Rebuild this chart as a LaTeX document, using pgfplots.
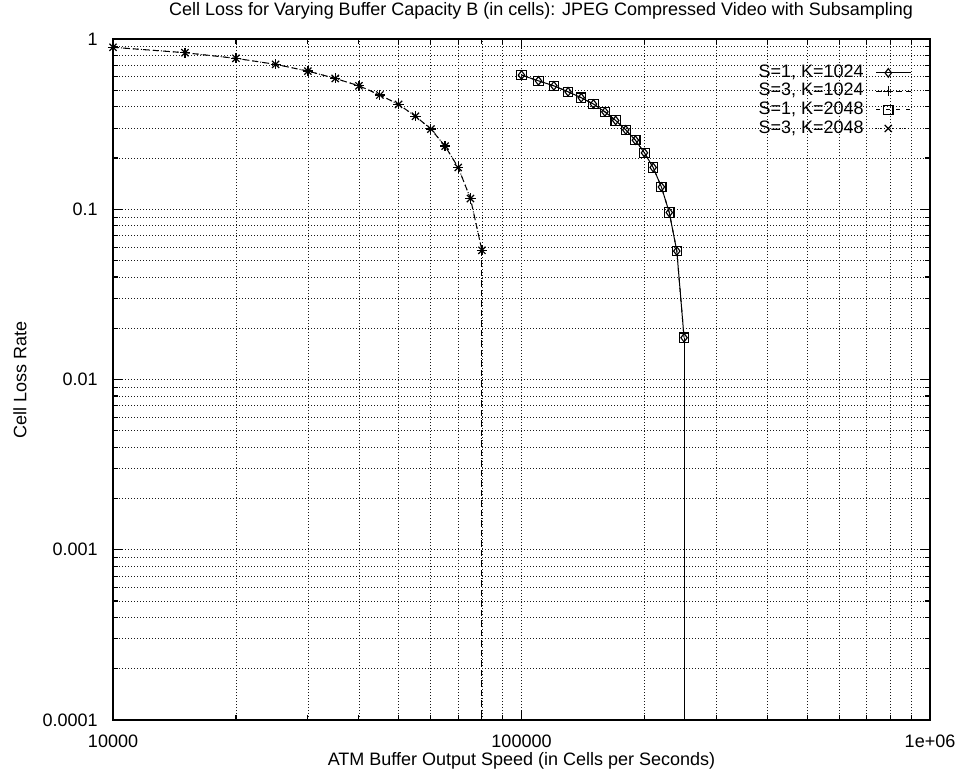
\documentclass[border=0pt]{standalone}
\usepackage{pgfplots}
\pgfplotsset{compat=1.18}
\usepackage{pgfplotstable}
\usepackage{fontspec}
\setmainfont{Liberation Sans}

% Cell loss rate against output speed, subsampling S=3
\pgfplotstableread{
speed loss
10000 0.894
15000 0.831
20000 0.770
25000 0.710
30000 0.648
35000 0.587
40000 0.531
45000 0.469
50000 0.413
55000 0.352
60000 0.296
65000 0.235
70000 0.176
75000 0.1156
80000 0.0574
}\lossSthree

% Cell loss rate against output speed, subsampling S=1
\pgfplotstableread{
speed loss
100000 0.614
110000 0.568
120000 0.531
130000 0.490
140000 0.452
150000 0.415
160000 0.3735
170000 0.3325
180000 0.2926
190000 0.2546
200000 0.2144
210000 0.176
220000 0.1352
230000 0.0957
240000 0.0568
250000 0.0176
}\lossSone

\newcommand{\chartfont}{\fontsize{13.5}{16}\selectfont}

\begin{document}
\begin{tikzpicture}
\begin{axis}[
  name=ax,
  xmode=log, ymode=log,
  scale only axis, width=612.75pt, height=510.75pt,
  xmin=1e4, xmax=1e6, ymin=1e-4, ymax=1,
  xtick={1e4,1e5,1e6}, xticklabels={10000,100000,1e+06},
  ytick={1e-4,1e-3,1e-2,1e-1,1}, yticklabels={0.0001,0.001,0.01,0.1,1},
  minor xtick={2e4,3e4,4e4,5e4,6e4,7e4,8e4,9e4,2e5,3e5,4e5,5e5,6e5,7e5,8e5,9e5},
  minor ytick={2e-4,3e-4,4e-4,5e-4,6e-4,7e-4,8e-4,9e-4,
               2e-3,3e-3,4e-3,5e-3,6e-3,7e-3,8e-3,9e-3,
               2e-2,3e-2,4e-2,5e-2,6e-2,7e-2,8e-2,9e-2,
               2e-1,3e-1,4e-1,5e-1,6e-1,7e-1,8e-1,9e-1},
  grid=both,
  major grid style={black!90, line width=0.6pt, dash pattern=on 0.75pt off 1.5pt},
  minor grid style={black!90, line width=0.6pt, dash pattern=on 0.75pt off 1.5pt},
  tick align=inside, tick pos=both,
  major tick length=7.5pt, minor tick length=3.75pt,
  every tick/.style={black, line width=0.8pt},
  axis line style={black, line width=1.4pt},
  xticklabel style={font=\chartfont, anchor=center, inner sep=0pt, yshift=-15.75pt},
  yticklabel style={font=\chartfont, anchor=east, inner sep=0pt, xshift=-11.25pt},
  every axis title shift=0pt,
  title={Cell Loss for Varying Buffer Capacity B (in cells): JPEG Compressed Video with Subsampling},
  title style={font=\chartfont, at={(axis description cs:0.5239,1.0411)}, anchor=center, inner sep=0pt},
  xlabel={ATM Buffer Output Speed (in Cells per Seconds)},
  xlabel style={font=\chartfont, at={(axis description cs:0.5,-0.0602)}, anchor=center, inner sep=0pt},
  ylabel={Cell Loss Rate},
  ylabel style={font=\chartfont, at={(axis description cs:-0.1138,0.5)}, anchor=center, inner sep=0pt},
  legend plot pos=right,
  legend cell align=right,
  legend style={at={(axis description cs:0.978,0.963)}, anchor=north east,
    draw=none, fill=none, inner sep=0pt, font=\chartfont, row sep=1.3pt,
    nodes={inner sep=0pt, text height=9.7pt, text depth=2.9pt},
    /tikz/every odd column/.append style={column sep=9pt}},
  legend image code/.code={
    \draw[mark repeat=2, mark phase=2, #1] plot coordinates {(0pt,0pt) (9pt,0pt) (26.25pt,0pt)};
  },
  every axis plot/.append style={black, line width=0.75pt},
]
\addplot[solid, mark=diamond, mark size=3.2pt, mark options={solid, line width=0.85pt}]
  table[x=speed, y=loss] {\lossSone};
\addlegendentry{S=1, K=1024}
\addplot[dash pattern=on 4.5pt off 3pt, mark=+, mark size=3.8pt, mark options={solid, line width=0.9pt}]
  table[x=speed, y=loss] {\lossSthree};
\addlegendentry{S=3, K=1024}
\addplot[dash pattern=on 3pt off 4.5pt, mark=square, mark size=3.5pt, mark options={solid, line width=0.85pt}]
  table[x=speed, y=loss] {\lossSone};
\addlegendentry{S=1, K=2048}
\addplot[dash pattern=on 0.75pt off 2.25pt, mark=x, mark size=3.8pt, mark options={solid, line width=0.9pt}]
  table[x=speed, y=loss] {\lossSthree};
\addlegendentry{S=3, K=2048}
% loss falls to nothing beyond the last sampled speed
\addplot[forget plot, solid] coordinates {(250000,0.0176) (250000,1e-5)};
\addplot[forget plot, dash pattern=on 3pt off 4.5pt] coordinates {(250000,0.0176) (250000,1e-5)};
\addplot[forget plot, dash pattern=on 4.5pt off 3pt] coordinates {(80000,0.0574) (80000,1e-5)};
\addplot[forget plot, dash pattern=on 0.75pt off 2.25pt] coordinates {(80000,0.0574) (80000,1e-5)};
\end{axis}
\pgfresetboundingbox
\path[use as bounding box] (ax.south west) ++(-84.75pt,-41.25pt) rectangle ++(718.5pt,581.25pt);
\end{tikzpicture}
\end{document}
